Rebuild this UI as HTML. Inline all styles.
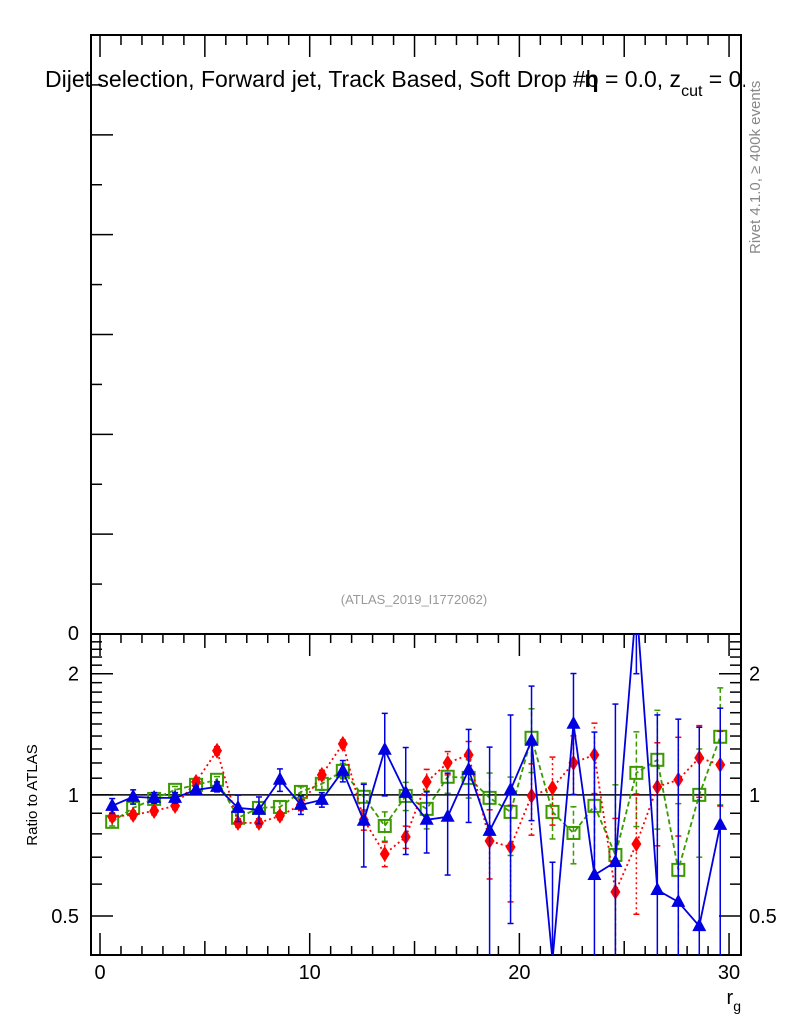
<!DOCTYPE html>
<html><head><meta charset="utf-8"><style>
body{margin:0;background:#fff}
svg{display:block;font-family:"Liberation Sans",sans-serif}
</style></head><body>
<svg id="c" width="786" height="1024" xmlns="http://www.w3.org/2000/svg">
<rect width="786" height="1024" fill="#fff"/>
<g id="topP"></g>
<g id="rat"></g>
<text x="45" y="87" font-size="23" fill="#000">Dijet selection, Forward jet, Track Based, Soft Drop #b<tspan dx="-14" font-weight="bold">η</tspan> = 0.0, z<tspan font-size="16" dy="9">cut</tspan><tspan dy="-9"> = 0.1</tspan></text>
<text x="414" y="604" font-size="13" fill="#999" text-anchor="middle">(ATLAS_2019_I1772062)</text>
<rect x="745" y="30" width="41" height="230" fill="#fff"/>
<text transform="translate(760,254) rotate(-90)" font-size="15" fill="#888">Rivet 4.1.0, ≥ 400k events</text>
<text transform="translate(37,795) rotate(-90)" font-size="15" text-anchor="middle">Ratio to ATLAS</text>
<text x="741" y="1004" font-size="20" text-anchor="end">r<tspan font-size="14" dy="7">g</tspan></text>
</svg>
<script>
const xs=[0.58,1.58,2.58,3.58,4.58,5.58,6.58,7.58,8.58,9.58,10.58,11.58,12.58,13.58,14.58,15.58,16.58,17.58,18.58,19.58,20.58,21.58,22.58,23.58,24.58,25.58,26.58,27.58,28.58,29.58];
const blue=[0.939,0.989,0.983,0.983,1.029,1.047,0.928,0.918,1.090,0.944,0.972,1.147,0.862,1.294,1.011,0.867,0.882,1.154,0.814,1.029,1.363,0.38,1.502,0.632,0.681,3.0,0.58,0.542,0.472,0.842];
const blueErr=[0.04,0.04,0.03,0.03,0.02,0.03,0.07,0.07,0.07,0.05,0.04,0.07,0.2,0.3,0.3,0.15,0.25,0.3,0.5,0.55,0.5,0.3,0.5,0.8,1,1,1,1,1,0.8];
const red=[0.882,0.892,0.912,0.939,1.077,1.287,0.852,0.852,0.887,0.944,1.121,1.339,0.867,0.713,0.786,1.077,1.201,1.257,0.768,0.742,0.994,1.041,1.201,1.257,0.574,0.755,1.047,1.090,1.236,1.188];
const redErr=[0.02,0.02,0.02,0.02,0.02,0.03,0.02,0.02,0.02,0.03,0.03,0.03,0.05,0.05,0.05,0.08,0.08,0.1,0.15,0.2,0.2,0.2,0.2,0.25,0.3,0.25,0.3,0.3,0.25,0.25];
const green=[0.857,0.928,0.977,1.029,1.059,1.090,0.877,0.928,0.933,1.017,1.065,1.147,0.989,0.837,0.994,0.923,1.109,1.102,0.983,0.907,1.386,0.907,0.804,0.939,0.709,1.134,1.222,0.651,1.0,1.394];
const greenErr=[0.02,0.02,0.02,0.02,0.02,0.02,0.03,0.03,0.03,0.03,0.04,0.05,0.08,0.07,0.08,0.1,0.1,0.12,0.15,0.2,0.25,0.13,0.13,0.3,0.35,0.3,0.4,0.3,0.3,0.45];
const xTicks=[0,10,20,30];
const yTicks=[0.5,1,2];
const NS="http://www.w3.org/2000/svg";
const L=91,R=741,T=35,M=634,B=955;
const XMIN=-0.43,XMAX=30.57,YMIN=0.40,YMAX=2.51;
const X=v=>L+(v-XMIN)/(XMAX-XMIN)*(R-L);
const Y=v=>{v=Math.max(YMIN*0.97,Math.min(YMAX*1.2,v));return B-(Math.log(v)-Math.log(YMIN))/(Math.log(YMAX)-Math.log(YMIN))*(B-M);};
function mk(p,t,a){const e=document.createElementNS(NS,t);for(const k in a)e.setAttribute(k,a[k]);p.appendChild(e);return e;}
const topG=document.getElementById('topP'),rat=document.getElementById('rat');
let f=mk(topG,'rect',{x:L,y:T,width:R-L,height:M-T,fill:'none',stroke:'#000','stroke-width':2});


for(let i=0;i<=12;i++){const y=M-i*(M-T)/12;const len=i%2==0?22:11;
 mk(topG,'line',{x1:L,x2:L+len,y1:y,y2:y,stroke:'#000','stroke-width':1.5});}
for(let v=0;v<=30;v++){const len=v%5==0?22:10;const x=X(v);
 mk(topG,'line',{x1:x,x2:x,y1:T,y2:T+len,stroke:'#000','stroke-width':1.5});}
let z=mk(topG,'text',{x:L-12,y:M+6,'font-size':20,'text-anchor':'end'});z.textContent='0';


const clip=mk(rat,'clipPath',{id:'cp'});mk(clip,'rect',{x:L,y:M,width:R-L,height:B-M});
const fr=mk(rat,'rect',{x:L,y:M,width:R-L,height:B-M,fill:'#fff',stroke:'#000','stroke-width':2});


for(let k=4;k<=24;k++){const vv=k/10;const maj=yTicks.includes(vv);const len=maj?22:11;const y=Y(vv);
 if(y<M+1)continue;
 mk(rat,'line',{x1:L,x2:L+len,y1:y,y2:y,stroke:'#000','stroke-width':1.5});
 mk(rat,'line',{x1:R-len,x2:R,y1:y,y2:y,stroke:'#000','stroke-width':1.5});}
yTicks.forEach(v=>{
 const t=mk(rat,'text',{x:L-12,y:Y(v)+7,'font-size':20,'text-anchor':'end'});t.textContent=String(v);
 
 
 const t2=mk(rat,'text',{x:R+8,y:Y(v)+7,'font-size':20});t2.textContent=String(v);
 
 });
for(let v=0;v<=30;v++){const len=v%10==0?22:(v%5==0?14:9);const x=X(v);
 mk(rat,'line',{x1:x,x2:x,y1:B,y2:B-len,stroke:'#000','stroke-width':1.5});
 mk(rat,'line',{x1:x,x2:x,y1:M,y2:M+len,stroke:'#000','stroke-width':1.5});}
xTicks.forEach(v=>{const t=mk(rat,'text',{x:X(v),y:B+24,'font-size':20,'text-anchor':'middle'});t.textContent=String(v);
 
 });
const g=mk(rat,'g',{'clip-path':'url(#cp)'});
mk(g,'line',{x1:L,x2:R,y1:Y(1),y2:Y(1),stroke:'#000','stroke-width':1.5});
function series(vals,errs,col,dash,marker,name){
 const sg=mk(g,'g',{});
 
 
 vals.forEach((v,i)=>{const x=X(xs[i]);const lo=v-errs[i];const y1=Y(lo>0.05?lo:0.05),y2=Y(v+errs[i]);
  mk(sg,'line',{x1:x,x2:x,y1:y1,y2:y2,stroke:col,'stroke-width':1.5,'stroke-dasharray':dash});
  mk(sg,'line',{x1:x-3,x2:x+3,y1:y1,y2:y1,stroke:col,'stroke-width':1.5});
  mk(sg,'line',{x1:x-3,x2:x+3,y1:y2,y2:y2,stroke:col,'stroke-width':1.5});});
 mk(sg,'polyline',{points:vals.map((v,i)=>X(xs[i])+','+Y(v)).join(' '),fill:'none',stroke:col,'stroke-width':1.8,'stroke-dasharray':dash});
 vals.forEach((v,i)=>{const x=X(xs[i]),y=Y(v);let m;
  if(marker=='tri')m=mk(sg,'polygon',{points:`${x},${y-8} ${x-7},${y+5} ${x+7},${y+5}`,fill:col});
  else if(marker=='dia')m=mk(sg,'polygon',{points:`${x},${y-8} ${x-5},${y} ${x},${y+8} ${x+5},${y}`,fill:col});
  else m=mk(sg,'rect',{x:x-6,y:y-6,width:12,height:12,fill:'none',stroke:col,'stroke-width':2});
  
  });
}
series(green,greenErr,'#3a9a00','5,3','sq','series-green');
series(red,redErr,'#ff0000','2,3','dia','series-red');
series(blue,blueErr,'#0000e0','','tri','series-blue');
</script>
</body></html>
